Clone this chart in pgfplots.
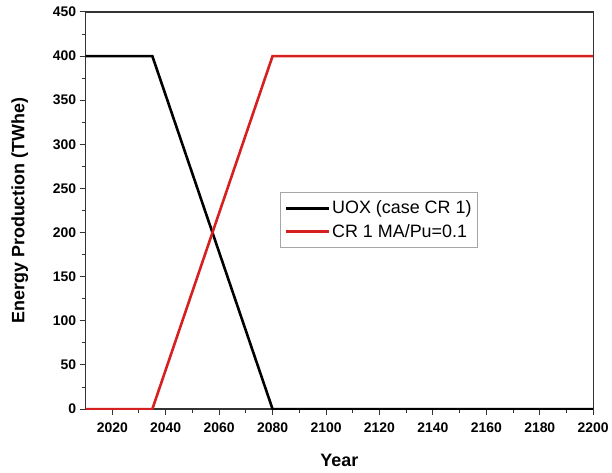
\documentclass[border=0pt]{standalone}
\usepackage{pgfplots}
\pgfplotsset{compat=1.18}
\usepackage{fontspec}
\setmainfont{Liberation Sans}
\definecolor{crred}{RGB}{214,32,32}
\begin{document}
\begin{tikzpicture}
\begin{axis}[
  scale only axis,
  width=510pt, height=399pt,
  xmin=2010, xmax=2200, ymin=0, ymax=450,
  xtick={2020,2040,...,2200},
  ytick={0,50,...,450},
  minor x tick num=1,
  minor y tick num=1,
  tick align=outside,
  xtick pos=bottom, ytick pos=left,
  major tick length=6pt, minor tick length=3.5pt,
  every tick/.style={black!80, line width=1pt},
  axis line style={black!80, line width=1.2pt},
  /pgf/number format/assume math mode=true,
  /pgf/number format/set thousands separator={},
  ticklabel style={font=\fontsize{14}{15}\selectfont\bfseries},
  xticklabel style={yshift=-4pt},
  xlabel={Year}, ylabel={Energy Production (TWhe)},
  label style={font=\fontsize{18}{20}\selectfont\bfseries},
  xlabel style={yshift=-15pt},
  ylabel style={yshift=18pt},
  legend style={at={(0.384,0.546)}, anchor=north west, draw=gray!70, line width=0.6pt,
    font=\fontsize{18}{20}\selectfont, inner sep=4pt,
    nodes={inner ysep=4.5pt}},
  legend cell align=left,
  legend image code/.code={\draw[#1] (0pt,0pt) -- (43pt,0pt);},
]
\addplot[black, line width=2.6pt] coordinates {(2010,400) (2035,400) (2080,0) (2200,0)};
\addlegendentry{UOX (case CR 1)}
\addplot[crred, line width=2.6pt] coordinates {(2010,0) (2035,0) (2080,400) (2200,400)};
\addlegendentry{CR 1 MA/Pu=0.1}
\end{axis}
\path (current axis.outer west) ++(-8pt,0pt);
\path (current axis.north west) ++(0pt,12pt);
\path (current axis.south) ++(0pt,-64pt);
\end{tikzpicture}
\end{document}
